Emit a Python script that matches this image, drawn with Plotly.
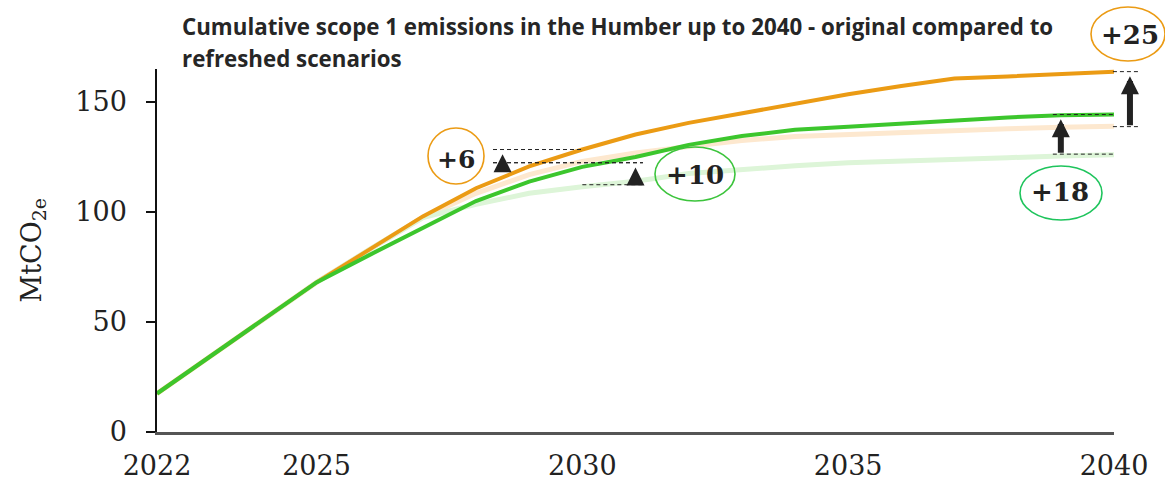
import plotly.graph_objects as go

# Cumulative scope 1 emissions (MtCO2e), yearly 2022-2040
years = list(range(2022, 2041))

orange_refreshed = [17.5, 34.3, 51.1, 68.0, 83.0, 98.0, 110.8, 120.7, 128.4, 135.2,
                    140.5, 144.8, 149.2, 153.5, 157.3, 160.7, 161.6, 162.8, 163.8]
orange_original = [17.5, 34.3, 51.1, 68.0, 83.0, 97.5, 108.5, 117.0, 123.0, 126.8,
                   129.8, 132.5, 134.3, 135.3, 136.3, 137.0, 137.8, 138.5, 139.0]
green_refreshed = [17.5, 34.3, 51.1, 68.0, 80.5, 93.0, 105.0, 113.8, 120.5, 125.0,
                   130.5, 134.5, 137.4, 138.8, 140.2, 141.7, 143.0, 144.0, 144.3]
green_original = [17.5, 34.3, 51.1, 68.0, 83.0, 97.5, 103.5, 108.5, 111.5, 114.0,
                  117.5, 119.5, 121.0, 122.4, 123.3, 124.0, 124.7, 125.4, 126.0]

# Increase brackets: label, lower value, upper value
gap_labels = ["+6", "+10", "+18", "+25"]
gap_low = [122.4, 112.4, 126.3, 138.8]
gap_high = [128.4, 122.4, 144.3, 163.8]

x_ticks = [2022, 2025, 2030, 2035, 2040]
y_ticks = [0, 50, 100, 150]

ORANGE = "#EB9B14"
GREEN = "#3CC62D"
PEACH = "#FDE8CF"
PALE_GREEN = "#DDF5D8"
INK = "#222222"

X0, X1 = 2022, 2040
Y0, Y1 = 0, 165
W, H = 1165, 480
M_L, M_R, M_T, M_B = 157, 51, 69, 48
PW, PH = W - M_L - M_R, H - M_T - M_B


def yr_paper(yr):
    return (yr - X0) / (X1 - X0)


def px_paper_x(px):
    return (px - M_L) / PW


def px_paper_y(py):
    return (H - M_B - py) / PH


fig = go.Figure()
for vals, col, w in [(orange_original, PEACH, 5), (green_original, PALE_GREEN, 5),
                     (orange_refreshed, ORANGE, 4), (green_refreshed, GREEN, 4)]:
    fig.add_trace(go.Scatter(x=years, y=vals, mode="lines",
                             line=dict(color=col, width=w), showlegend=False))

# bracket layout: arrow year, dashed guide spans (upper, lower), bubble
brackets = [
    dict(ax=2028.5, up=(2028.32, 2030.0), lo=(2028.32, 2031.14), stem=3,
         bubble=(456, 156, 28, 28), bcol=ORANGE, text=(456, 159), fs=25),
    dict(ax=2031.0, up=(2028.32, 2031.14), lo=(2030.0, 2031.14), stem=3,
         bubble=(695, 174, 40, 27), bcol="#3CC43C", text=(695, 175), fs=26),
    dict(ax=2039.0, up=(2038.85, 2040.02), lo=(2038.85, 2040.02), stem=6,
         bubble=(1061, 193, 41, 27), bcol="#1EC45C", text=(1060, 192), fs=26),
    dict(ax=2040.3, up=(2039.98, 2040.45), lo=(2039.98, 2040.45), stem=6,
         bubble=(1128, 34, 37, 27), bcol=ORANGE, text=(1130, 35), fs=26),
]

shapes = []
annotations = []
for lab, lo, hi, b in zip(gap_labels, gap_low, gap_high, brackets):
    for (a, z), v in [(b["up"], hi), (b["lo"], lo)]:
        shapes.append(dict(type="line", xref="paper", yref="y",
                           x0=yr_paper(a), x1=yr_paper(z), y0=v, y1=v,
                           line=dict(color=INK, width=1, dash="4px,3px")))
    scale = 3.6
    annotations.append(dict(xref="paper", yref="y", x=yr_paper(b["ax"]), y=hi,
                            axref="pixel", ayref="y", ax=0, ay=lo, text="",
                            showarrow=True, arrowhead=2, arrowcolor=INK,
                            arrowwidth=b["stem"], arrowsize=scale / b["stem"],
                            standoff=1.3 * scale))
    cx, cy, rx, ry = b["bubble"]
    shapes.append(dict(type="circle", xref="paper", yref="paper",
                       x0=px_paper_x(cx - rx), x1=px_paper_x(cx + rx),
                       y0=px_paper_y(cy + ry), y1=px_paper_y(cy - ry),
                       line=dict(color=b["bcol"], width=1.6)))
    tx, ty = b["text"]
    annotations.append(dict(xref="paper", yref="paper", x=px_paper_x(tx), y=px_paper_y(ty),
                            text=f"<b>{lab}</b>", showarrow=False,
                            xanchor="center", yanchor="middle",
                            font=dict(family="DejaVu Serif", size=b["fs"], color=INK)))

title_lines = ["Cumulative scope 1 emissions in the Humber up to 2040 - original compared to",
               "refreshed scenarios"]
for i, line in enumerate(title_lines):
    annotations.append(dict(xref="paper", yref="paper", x=px_paper_x(180),
                            y=px_paper_y(27 + 32 * i), text=f"<b>{line}</b>",
                            showarrow=False, xanchor="left", yanchor="middle",
                            font=dict(family="Open Sans", size=22.3, color="#262626")))

annotations.append(dict(xref="paper", yref="paper", x=px_paper_x(33), y=0.5,
                        text="MtCO<sub>2e</sub>", textangle=-90, showarrow=False,
                        xanchor="center", yanchor="middle",
                        font=dict(family="DejaVu Serif", size=27, color=INK)))

fig.update_layout(
    width=W, height=H, margin=dict(l=M_L, r=M_R, t=M_T, b=M_B, autoexpand=False),
    paper_bgcolor="white", plot_bgcolor="white",
    shapes=shapes, annotations=annotations, showlegend=False,
    font=dict(family="DejaVu Serif", size=27, color=INK),
)
fig.update_xaxes(range=[X0, X1], tickvals=x_ticks, showgrid=False, zeroline=False,
                 showline=True, linecolor="#555555", linewidth=2.5, ticks="",
                 ticklabelstandoff=8, tickfont=dict(size=27), automargin=False)
fig.update_yaxes(range=[Y0, Y1], tickvals=y_ticks, showgrid=False, zeroline=False,
                 showline=True, linecolor="#111111", linewidth=1.5, ticks="outside",
                 ticklen=9, tickwidth=1.5, tickcolor="#111111",
                 ticklabelstandoff=14, tickfont=dict(size=27), automargin=False)

fig.write_html("out.html")
